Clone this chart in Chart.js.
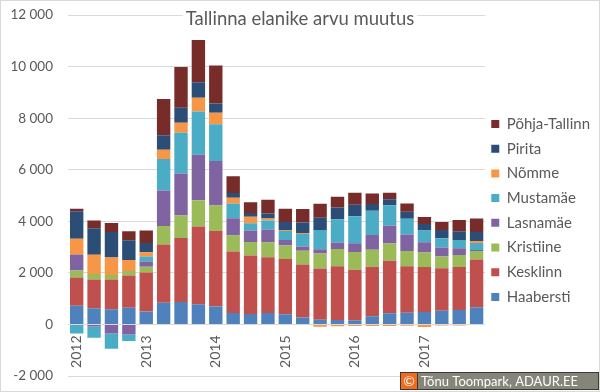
<!DOCTYPE html>
<html><head><meta charset="utf-8">
<script src="https://cdn.jsdelivr.net/npm/chart.js@4.4.1/dist/chart.umd.min.js"></script>
<style>html,body{margin:0;padding:0;background:#fff}#wrap{width:600px;height:392px;position:relative}canvas{display:block}</style>
</head><body><div id="wrap"><canvas id="c" width="600" height="392"></canvas></div>
<script>
const titleText = 'Tallinna elanike arvu muutus';
const categories = ['2012 Q1','2012 Q2','2012 Q3','2012 Q4','2013 Q1','2013 Q2','2013 Q3','2013 Q4',
  '2014 Q1','2014 Q2','2014 Q3','2014 Q4','2015 Q1','2015 Q2','2015 Q3','2015 Q4',
  '2016 Q1','2016 Q2','2016 Q3','2016 Q4','2017 Q1','2017 Q2','2017 Q3','2017 Q4'];
const yTickValues = [-2000, 0, 2000, 4000, 6000, 8000, 10000, 12000];

const haabersti = [720, 630, 590, 650, 500, 840, 870, 780, 700, 440, 400, 440, 390, 270, 180, 170, 160, 320, 430, 450, 480, 530, 560, 670];
const kesklinn = [1100, 1110, 1150, 1250, 1510, 2260, 2480, 3020, 2930, 2390, 2270, 2170, 2150, 2050, 1990, 2090, 1960, 1920, 2040, 1810, 1750, 1650, 1670, 1850];
const kristiine = [270, 220, 180, 170, 230, 720, 870, 1020, 980, 620, 530, 570, 520, 540, 580, 670, 690, 660, 670, 590, 560, 450, 460, 330];
const lasnamae = [620, -80, -350, -390, 200, 1370, 1630, 1760, 1730, 670, 440, 500, 210, 160, 170, 250, 340, 570, 690, 640, 400, 350, 260, 40];
const mustamae = [-350, -440, -590, -250, 190, 1230, 1580, 1680, 1420, 570, 280, 350, 350, 490, 740, 900, 1050, 940, 790, 610, 450, 360, 320, 270];
const nomme = [610, 740, 680, 430, 170, 350, 390, 530, 450, 220, 260, 80, 40, 40, -90, -70, -60, -60, -60, -50, -100, -40, -40, 80];
const pirita = [1070, 1030, 980, 760, 360, 570, 580, 600, 360, 190, 140, 190, 310, 400, 480, 450, 440, 260, 230, 270, 250, 320, 340, 340];
const pohjaTallinn = [100, 300, 350, 350, 480, 1400, 1580, 1640, 1470, 650, 420, 540, 520, 530, 540, 420, 470, 410, 260, 320, 280, 310, 440, 530];

const seriesNames = ['Haabersti','Kesklinn','Kristiine','Lasnamäe','Mustamäe','Nõmme','Pirita','Põhja-Tallinn'];
const seriesData = [haabersti, kesklinn, kristiine, lasnamae, mustamae, nomme, pirita, pohjaTallinn];
const seriesColors = ['#4F81BD','#C0504D','#9BBB59','#8064A2','#4BACC6','#F79646','#2C4D75','#772C2A'];

const FONT = 'Lato';
const TXT = '#595959';

function fmt(v){ const s = String(Math.abs(v)).replace(/\B(?=(\d{3})+(?!\d))/g, ' '); return (v<0?'-':'') + s; }

const titlePlugin = {
  id: 'ttl',
  beforeDatasetsDraw(chart) {
    const ctx = chart.ctx;
    ctx.save();
    ctx.font = '18.5px ' + FONT;
    const w = ctx.measureText(titleText).width;
    ctx.fillStyle = '#fff';
    ctx.fillRect(300 - w/2 - 3, 8, w + 6, 18);
    ctx.fillStyle = TXT;
    ctx.textAlign = 'center';
    ctx.textBaseline = 'alphabetic';
    ctx.fillText(titleText, 300, 25);
    ctx.restore();
  },
  afterDraw(chart) {
    const ctx = chart.ctx;
    ctx.save();
    ctx.strokeStyle = '#d9d9d9';
    ctx.lineWidth = 1;
    ctx.strokeRect(0.5, 0.5, 599, 391);
    ctx.fillStyle = '#3a3a3a';
    ctx.fillRect(400, 372, 199, 18);
    ctx.fillStyle = '#F26B1D';
    ctx.fillRect(401, 373, 16, 16);
    ctx.fillStyle = '#85857a';
    ctx.fillRect(418, 373, 180, 16);
    ctx.fillStyle = '#fff';
    ctx.font = '14px ' + FONT;
    ctx.textBaseline = 'middle';
    ctx.textAlign = 'center';
    ctx.fillText('©', 409, 381.5);
    ctx.textAlign = 'left';
    ctx.font = '13px ' + FONT;
    ctx.fillText('Tõnu Toompark, ADAUR.EE', 421, 381.5);
    ctx.restore();
  }
};

new Chart(document.getElementById('c'), {
  type: 'bar',
  data: {
    labels: categories,
    datasets: seriesNames.map((n, i) => ({
      label: n, data: seriesData[i], backgroundColor: seriesColors[i], borderWidth: 0,
      categoryPercentage: 1.0, barPercentage: 0.77
    }))
  },
  options: {
    responsive: false,
    animation: false,
    layout: { padding: { left: 0, top: 15, bottom: 16, right: 0 } },
    plugins: {
      title: { display: false },
      tooltip: { enabled: false },
      legend: {
        position: 'right',
        reverse: true,
        title: { display: true, text: ' ', padding: 10.8, font: { size: 10, family: FONT } },
        labels: {
          boxWidth: 8, boxHeight: 8, padding: 6, color: TXT,
          font: { size: 15, lineHeight: 18.7 / 15, family: FONT },
          generateLabels: chart => Chart.defaults.plugins.legend.labels.generateLabels(chart)
            .map(it => Object.assign(it, { text: [it.text] }))
        }
      }
    },
    scales: {
      x: {
        stacked: true,
        position: { y: 0 },
        grid: { display: false },
        border: { display: false },
        ticks: {
          autoSkip: false, minRotation: 90, maxRotation: 90, padding: 3,
          color: TXT, font: { size: 14, family: FONT },
          callback: (v, i) => (i % 4 === 0 ? categories[i].slice(0, 4) : '')
        }
      },
      y: {
        stacked: true,
        min: yTickValues[0], max: yTickValues[yTickValues.length - 1],
        afterFit: s => { s.width = 68; s.paddingTop = 0; s.paddingBottom = 0; },
        afterBuildTicks: s => { s.ticks = yTickValues.map(v => ({ value: v })); },
        grid: { color: '#d9d9d9', drawTicks: false },
        border: { display: false },
        ticks: { padding: 15, color: TXT, font: { size: 13.5, family: FONT }, callback: v => fmt(v) }
      }
    }
  },
  plugins: [titlePlugin]
});
</script></body></html>
